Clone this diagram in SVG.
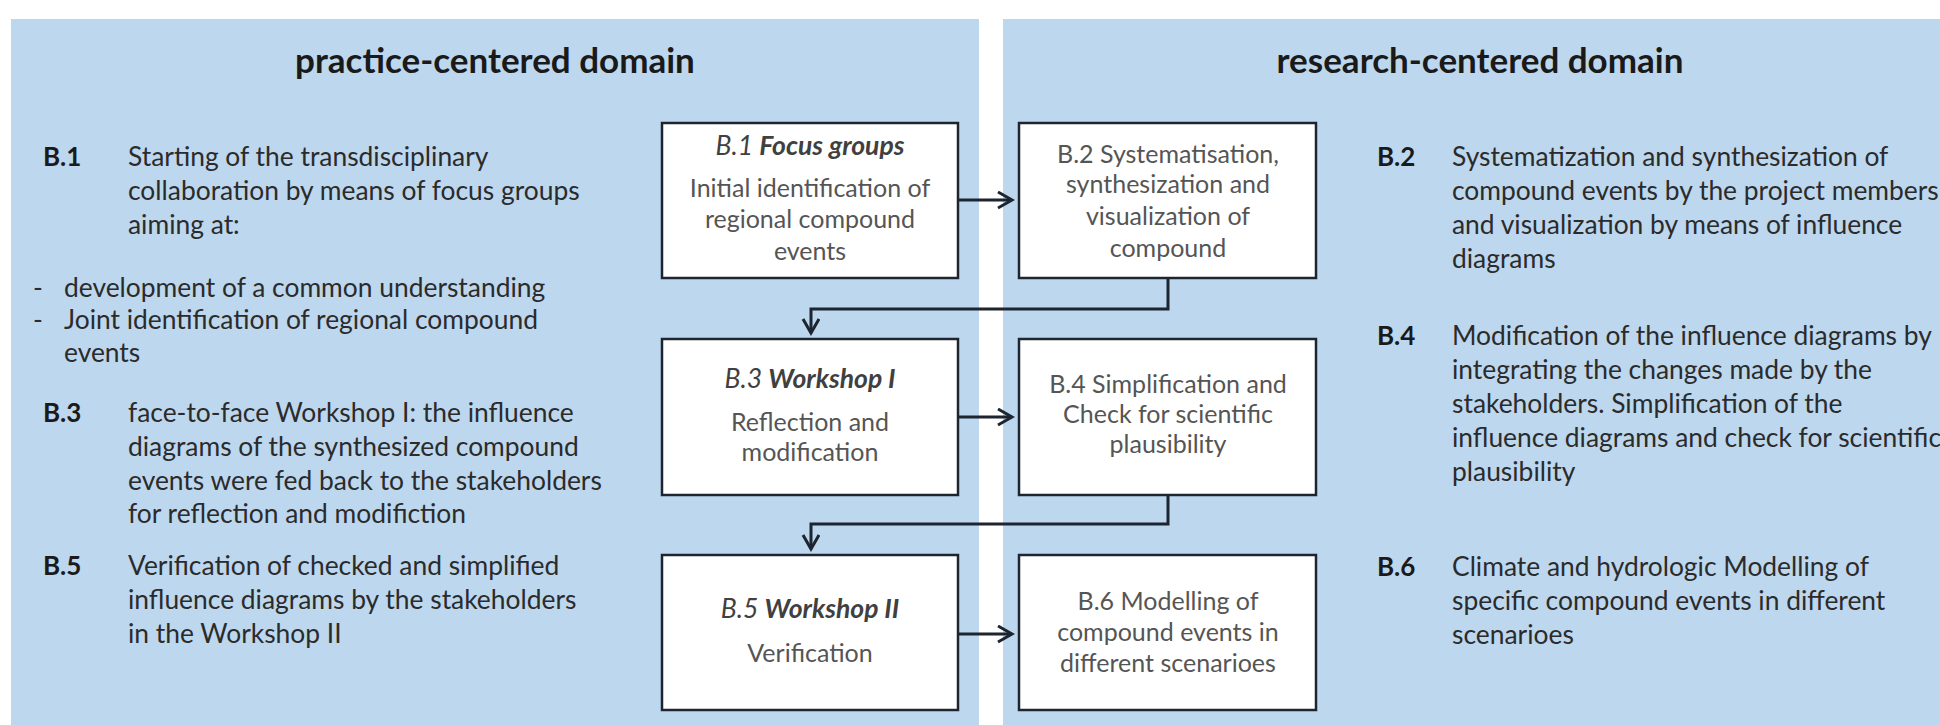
<svg xmlns="http://www.w3.org/2000/svg" width="1940" height="725" viewBox="0 0 1940 725">
<defs>
<style>
.panel{fill:#BDD7EE;stroke:none}
.title{font-family:Lato,"Open Sans",sans-serif;font-size:35px;font-weight:bold;fill:#1a1a1a;text-anchor:middle}
.desc{font-family:Lato,"Open Sans",sans-serif;font-size:26.4px;fill:#2b2b2b}
.num{font-family:Lato,"Open Sans",sans-serif;font-size:26px;font-weight:bold;fill:#1a1a1a}
.box{fill:#ffffff;stroke:#1c2530;stroke-width:2.5}
.bt{font-family:Lato,"Open Sans",sans-serif;font-size:25px;fill:#555555;text-anchor:middle}
.bh{font-family:Lato,"Open Sans",sans-serif;font-size:26.5px;font-style:italic;fill:#404040;text-anchor:middle}
.bh tspan.b{font-weight:bold}
.conn{fill:none;stroke:#1c2530;stroke-width:3}
</style>
<marker id="arr" markerUnits="userSpaceOnUse" markerWidth="18" markerHeight="20" refX="15" refY="9" orient="auto">
<path d="M1,1 L15,9 L1,17" fill="none" stroke="#1c2530" stroke-width="3"/>
</marker>
</defs>
<rect width="1940" height="725" fill="#ffffff"/>
<rect class="panel" x="11" y="19" width="968" height="706"/>
<rect class="panel" x="1003" y="19" width="937" height="706"/>
<text class="title" x="495" y="73">practice-centered domain</text>
<text class="title" x="1480" y="73">research-centered domain</text>

<g id="desc-left">
<text class="num" x="43" y="166">B.1</text>
<text class="desc" x="128" y="166">Starting of the transdisciplinary</text>
<text class="desc" x="128" y="200">collaboration by means of focus groups</text>
<text class="desc" x="128" y="234">aiming at:</text>
<text class="desc" x="33" y="297">-</text>
<text class="desc" x="64" y="297">development of a common understanding</text>
<text class="desc" x="33" y="329">-</text>
<text class="desc" x="64" y="329">Joint identification of regional compound</text>
<text class="desc" x="64" y="362">events</text>
<text class="num" x="43" y="422">B.3</text>
<text class="desc" x="128" y="422">face-to-face Workshop I: the influence</text>
<text class="desc" x="128" y="456">diagrams of the synthesized compound</text>
<text class="desc" x="128" y="490">events were fed back to the stakeholders</text>
<text class="desc" x="128" y="523">for reflection and modifiction</text>
<text class="num" x="43" y="575">B.5</text>
<text class="desc" x="128" y="575">Verification of checked and simplified</text>
<text class="desc" x="128" y="609">influence diagrams by the stakeholders</text>
<text class="desc" x="128" y="643">in the Workshop II</text>
</g>

<g id="desc-right">
<text class="num" x="1377" y="166">B.2</text>
<text class="desc" x="1452" y="166">Systematization and synthesization of</text>
<text class="desc" x="1452" y="200">compound events by the project members</text>
<text class="desc" x="1452" y="234">and visualization by means of influence</text>
<text class="desc" x="1452" y="268">diagrams</text>
<text class="num" x="1377" y="345">B.4</text>
<text class="desc" x="1452" y="345">Modification of the influence diagrams by</text>
<text class="desc" x="1452" y="379">integrating the changes made by the</text>
<text class="desc" x="1452" y="413">stakeholders. Simplification of the</text>
<text class="desc" x="1452" y="447">influence diagrams and check for scientific</text>
<text class="desc" x="1452" y="481">plausibility</text>
<text class="num" x="1377" y="576">B.6</text>
<text class="desc" x="1452" y="576">Climate and hydrologic Modelling of</text>
<text class="desc" x="1452" y="610">specific compound events in different</text>
<text class="desc" x="1452" y="644">scenarioes</text>
</g>

<g id="connectors">
<line class="conn" x1="958" y1="200" x2="1012" y2="200" marker-end="url(#arr)"/>
<polyline class="conn" points="1168,278 1168,309 811,309 811,333" marker-end="url(#arr)"/>
<line class="conn" x1="958" y1="417" x2="1012" y2="417" marker-end="url(#arr)"/>
<polyline class="conn" points="1168,495 1168,524 811,524 811,549" marker-end="url(#arr)"/>
<line class="conn" x1="958" y1="634" x2="1012" y2="634" marker-end="url(#arr)"/>
</g>

<g id="b1">
<rect class="box" x="662" y="123" width="296" height="155"/>
<text class="bh" x="810" y="155">B.1 <tspan class="b">Focus groups</tspan></text>
<text class="bt" x="810" y="197">Initial identification of</text>
<text class="bt" x="810" y="228">regional compound</text>
<text class="bt" x="810" y="260">events</text>
</g>
<g id="b2">
<rect class="box" x="1019" y="123" width="297" height="155"/>
<text class="bt" x="1168" y="163">B.2 Systematisation,</text>
<text class="bt" x="1168" y="193">synthesization and</text>
<text class="bt" x="1168" y="225">visualization of</text>
<text class="bt" x="1168" y="257">compound</text>
</g>
<g id="b3">
<rect class="box" x="662" y="339" width="296" height="156"/>
<text class="bh" x="810" y="388">B.3 <tspan class="b">Workshop I</tspan></text>
<text class="bt" x="810" y="431">Reflection and</text>
<text class="bt" x="810" y="461">modification</text>
</g>
<g id="b4">
<rect class="box" x="1019" y="339" width="297" height="156"/>
<text class="bt" x="1168" y="393">B.4 Simplification and</text>
<text class="bt" x="1168" y="423">Check for scientific</text>
<text class="bt" x="1168" y="453">plausibility</text>
</g>
<g id="b5">
<rect class="box" x="662" y="555" width="296" height="155"/>
<text class="bh" x="810" y="618">B.5 <tspan class="b">Workshop II</tspan></text>
<text class="bt" x="810" y="662">Verification</text>
</g>
<g id="b6">
<rect class="box" x="1019" y="555" width="297" height="155"/>
<text class="bt" x="1168" y="610">B.6 Modelling of</text>
<text class="bt" x="1168" y="641">compound events in</text>
<text class="bt" x="1168" y="672">different scenarioes</text>
</g>
</svg>
